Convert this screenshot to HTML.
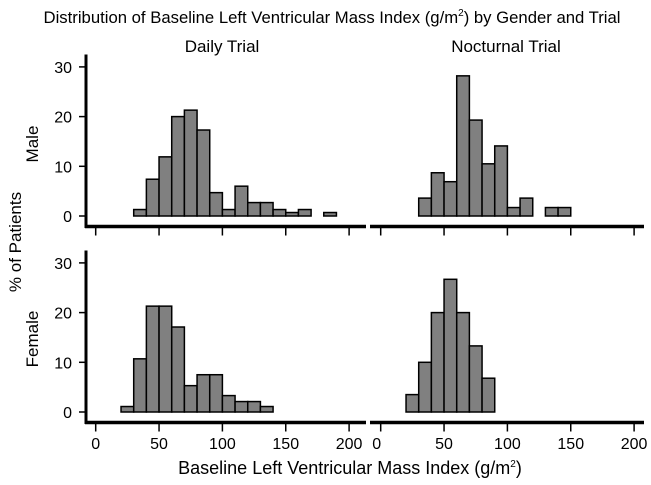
<!DOCTYPE html>
<html><head><meta charset="utf-8"><style>
body{margin:0;background:#fff}
svg{display:block;font-family:"Liberation Sans",Arial,sans-serif}
</style></head><body>
<svg id="c" width="651" height="485"></svg>
<script>
const binStarts=[20,30,40,50,60,70,80,90,100,110,120,130,140,150,160,170,180];
const maleDaily=[0,1.3,7.4,11.9,20,21.3,17.3,4.7,1.3,6.0,2.7,2.7,1.3,0.7,1.3,0,0.7];
const maleNoct=[0,3.6,8.7,6.9,28.2,19.3,10.5,14.1,1.7,3.6,0,1.7,1.7,0,0,0,0];
const femaleDaily=[1.1,10.7,21.3,21.3,17.1,5.3,7.5,7.5,3.3,2.1,2.1,1.1,0,0,0,0,0];
const femaleNoct=[3.5,10,20,26.7,20,13.3,6.8,0,0,0,0,0,0,0,0,0,0];
const xTicks=[0,50,100,150,200];
const yTicks=[0,10,20,30];
const binWidth=10;

const NS="http://www.w3.org/2000/svg";
const svg=document.getElementById('c');
function mk(tag,attrs,parent){const e=document.createElementNS(NS,tag);for(const k in attrs)e.setAttribute(k,attrs[k]);(parent||svg).appendChild(e);return e;}
function txt(s,x,y,size,anchor,name,rot){const t=mk('text',{x:x,y:y,'font-size':size,'text-anchor':anchor||'middle',fill:'#000'});if(rot)t.setAttribute('transform','rotate(-90 '+x+' '+y+')');t.textContent=s;


return t;}

const cols=[{x0:95.7,name:'daily'},{x0:380.7,name:'nocturnal'}];
const rows=[{y0:216,name:'male'},{y0:412,name:'female'}];
const xs=1.267, ys=4.97;
const data=[[maleDaily,maleNoct],[femaleDaily,femaleNoct]];

const title=mk('text',{x:332,y:23,'font-size':16.7,'text-anchor':'middle'});


title.innerHTML='Distribution of Baseline Left Ventricular Mass Index (g/m<tspan dy="-7" font-size="10">2</tspan><tspan dy="7">) by Gender and Trial</tspan>';
txt('Daily Trial',222,52,17,'middle','daily-column-title');
txt('Nocturnal Trial',506,52,17,'middle','nocturnal-column-title');
txt('% of Patients',21,242,17,'middle','y-axis-title',true);
txt('Male',38,144,17,'middle','male-row-label',true);
txt('Female',38,339,17,'middle','female-row-label',true);
const xl=mk('text',{x:350,y:474,'font-size':18,'text-anchor':'middle'});


xl.innerHTML='Baseline Left Ventricular Mass Index (g/m<tspan dy="-7" font-size="10">2</tspan><tspan dy="7">)</tspan>';

rows.forEach((r,ri)=>{
  const yv=v=>r.y0-v*ys;
  const ya=mk('line',{x1:86,x2:86,y1:yv(32.5),y2:r.y0+12,stroke:'#000','stroke-width':3});
  
  
  yTicks.forEach(t=>{
    const l=mk('line',{x1:79,x2:86,y1:yv(t),y2:yv(t),stroke:'#000','stroke-width':1.5});
    
    
    txt(String(t),72,yv(t)+6,16,'end',r.name+'-y-tick-label');
  });
  cols.forEach((c,ci)=>{
    const xv=v=>c.x0+v*xs;
    const axY=r.y0+10.5;
    const xa=mk('line',{x1:ci?370:85,x2:ci?644:366,y1:axY,y2:axY,stroke:'#000','stroke-width':3.5});
    
    
    xTicks.forEach(t=>{
      const l=mk('line',{x1:xv(t),x2:xv(t),y1:axY,y2:axY+9,stroke:'#000','stroke-width':1.5});
      
      
      if(ri===1) txt(String(t),xv(t)-(ci&&t===0?4:0),449,16,'middle',c.name+'-x-tick-label');
    });
    const vals=data[ri][ci];
    vals.forEach((v,i)=>{
      if(v<=0) return;
      const b=mk('rect',{x:xv(binStarts[i]),y:yv(v),width:binWidth*xs,height:v*ys,fill:'#808080',stroke:'#000','stroke-width':1.5});
      
      
    });
  });
});
</script>
</body></html>
